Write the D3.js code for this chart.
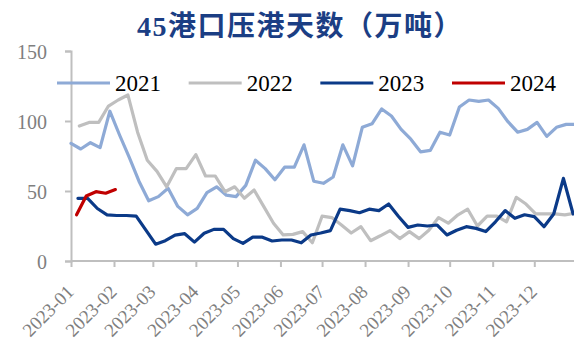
<!DOCTYPE html>
<html>
<head>
<meta charset="utf-8">
<script src="https://cdn.jsdelivr.net/npm/d3@7/dist/d3.min.js"></script>
<style>
  html, body { margin: 0; padding: 0; background: #fff; }
  svg { display: block; }
</style>
</head>
<body>
<svg id="chart" width="574" height="341"></svg>
<script>
// Weekly port congestion readings (万吨), one array per year
const series2021 = [84, 80, 84.5, 81, 107, 90, 74, 57, 43, 46, 52, 39, 33, 37.6, 48.8, 53, 47, 46, 54, 72,
  66, 58, 67, 67, 83, 57, 55.5, 60, 83, 68, 95.5, 98, 108.6, 103.6, 94, 87, 78, 79, 92, 90,
  110, 115, 114, 115, 109, 99.5, 92, 94, 99, 89, 95.5, 97.6, 97.6];
const series2022 = [96.4, 99, 99, 110.7, 115, 118.6, 92, 72, 64, 53, 66, 66, 76, 60.7, 60.7, 49.5, 53, 44.8, 50.7, 38.8,
  27, 18.6, 19, 21, 13, 32, 31, 25.7, 20, 24.5, 14.5, 18, 21.7, 16, 21, 16, 22, 31, 27, 33,
  37, 25, 32, 32, 28, 45.5, 40.7, 33.6, 33.6, 33.6, 33, 34];
const series2023 = [44.8, 44.8, 37.5, 33, 32.5, 32.5, 32, 22, 12, 14.5, 18.5, 19.5, 13.5, 19.8, 22.6, 22.6, 16, 12.6, 17, 17,
  14.3, 15, 15, 13, 18.6, 20, 21.7, 37, 36, 34.5, 37, 36, 40.7, 32, 24, 25.7, 25, 25.7, 18.6, 22,
  24.5, 23.3, 21, 28, 36, 30.5, 33, 31.7, 24.5, 33.6, 59, 33.6];
const series2024 = [33, 46.4, 49.5, 48.4, 51];

// First reporting date of each year (readings are weekly)
const startDates = { "2021": "2021-01-01", "2022": "2022-01-07", "2023": "2023-01-06", "2024": "2024-01-05" };
const seriesNames = ["2021", "2022", "2023", "2024"];
const seriesColors = ["#8eaad6", "#bfbfbf", "#0b3a88", "#c00000"];
const yTicks = [0, 50, 100, 150];
const monthTicks = ["2023-01", "2023-02", "2023-03", "2023-04", "2023-05", "2023-06",
  "2023-07", "2023-08", "2023-09", "2023-10", "2023-11", "2023-12"];
const titleText = "45港口压港天数（万吨）";

const valuesByName = { "2021": series2021, "2022": series2022, "2023": series2023, "2024": series2024 };
const parse = d3.timeParse("%Y-%m-%d");
const parseMonth = d3.timeParse("%Y-%m");

// Every year is laid onto the 2023 calendar by day-of-year
function toAxisDate(date) {
  const doy = d3.timeDay.count(d3.timeYear.floor(date), date);
  return d3.timeDay.offset(new Date(2023, 0, 1), doy);
}
const seriesData = seriesNames.map((name, si) => {
  const start = parse(startDates[name]);
  return {
    name,
    color: seriesColors[si],
    points: valuesByName[name].map((v, i) => ({ date: toAxisDate(d3.timeDay.offset(start, 7 * i)), value: v }))
  };
});

const svg = d3.select("#chart");
const plotLeft = 71, plotBottom = 261, plotTop = 51;

const x = d3.scaleTime()
  .domain([new Date(2023, 0, 1), new Date(2023, 11, 31)])
  .range([plotLeft, 575.9]);
const y = d3.scaleLinear().domain([0, 150]).range([plotBottom, plotTop]);

const axisColor = "#bfbfbf";
const labelColor = "#7f7f7f";

// Title
svg.append("text")
  .attr("x", 300).attr("y", 36)
  .attr("text-anchor", "middle")
  .attr("font-family", "'Liberation Serif', 'Noto Sans CJK SC', serif")
  .attr("font-weight", "bold")
  .attr("font-size", 28)
  .attr("letter-spacing", 1.5)
  .attr("fill", "#1b3e84")
  .text(titleText);

// Y axis
const yAxis = svg.append("g")
  .attr("transform", `translate(${plotLeft},0)`)
  .call(d3.axisLeft(y).tickValues(yTicks).tickSize(6).tickPadding(18));
yAxis.select(".domain").attr("stroke", axisColor).attr("stroke-width", 2);
yAxis.selectAll(".tick line").attr("stroke", axisColor).attr("stroke-width", 2);
yAxis.selectAll(".tick text")
  .attr("fill", labelColor)
  .attr("font-family", "'Liberation Serif', serif")
  .attr("font-size", 20)
  .attr("dy", "0.35em");

// X axis with month ticks
const xAxis = svg.append("g")
  .attr("transform", `translate(0,${plotBottom})`)
  .call(d3.axisBottom(x)
    .tickValues(monthTicks.map(parseMonth))
    .tickSize(6)
    .tickFormat(d3.timeFormat("%Y-%m")));
xAxis.select(".domain").attr("stroke", axisColor).attr("stroke-width", 2)
  .attr("d", `M${plotLeft},0H${x.range()[1]}`);
xAxis.selectAll(".tick line").attr("stroke", axisColor).attr("stroke-width", 2);
xAxis.selectAll(".tick text")
  .attr("fill", labelColor)
  .attr("font-family", "'Liberation Serif', serif")
  .attr("font-size", 19)
  .attr("text-anchor", "end")
  .attr("dy", null)
  .attr("y", null)
  .attr("transform", "translate(3.5,32) rotate(-45)");

// Series lines
const line = d3.line().x(d => x(d.date)).y(d => y(d.value));
svg.append("g").selectAll("path")
  .data(seriesData)
  .join("path")
  .attr("d", d => line(d.points))
  .attr("fill", "none")
  .attr("stroke", d => d.color)
  .attr("stroke-width", 3.2)
  .attr("stroke-linejoin", "round")
  .attr("stroke-linecap", "round");

// Legend inside the plot
const legendX = d3.scalePoint().domain(seriesNames).range([57, 452]);
const legend = svg.append("g").selectAll("g")
  .data(seriesData)
  .join("g")
  .attr("transform", d => `translate(${legendX(d.name)},83)`);
legend.append("line")
  .attr("x1", 0).attr("x2", 53)
  .attr("stroke", d => d.color)
  .attr("stroke-width", 3.2);
legend.append("text")
  .attr("x", 58).attr("y", 8)
  .attr("font-family", "'Liberation Serif', serif")
  .attr("font-size", 23)
  .attr("fill", "#000")
  .text(d => d.name);
</script>
</body>
</html>
